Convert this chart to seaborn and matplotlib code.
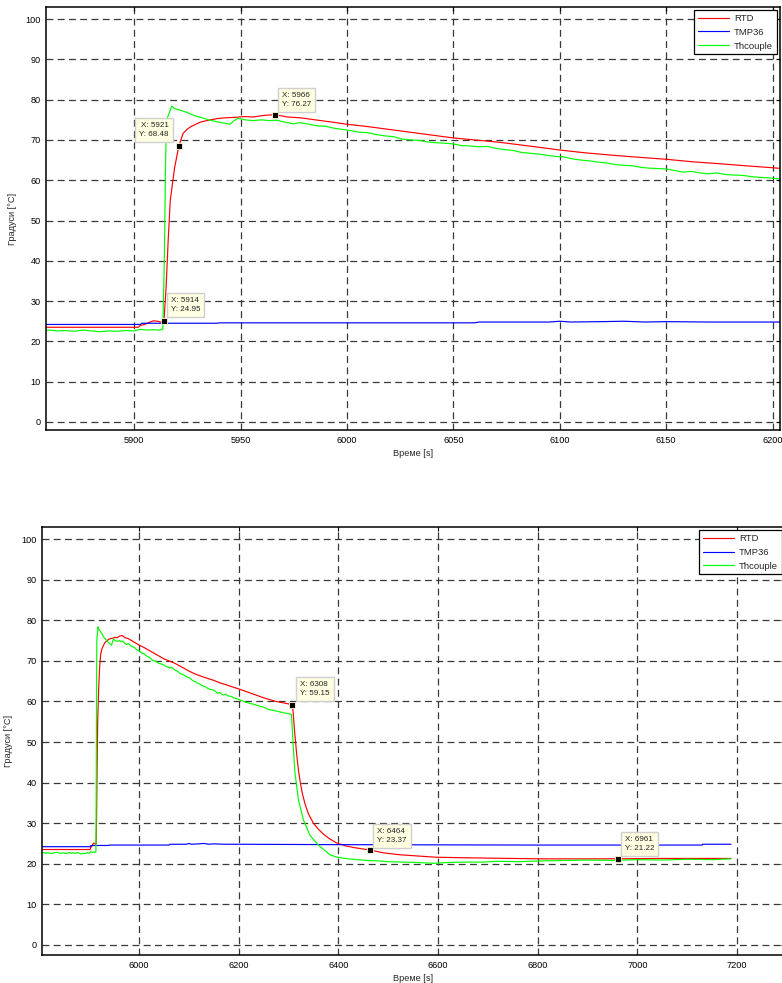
#!/usr/bin/python3

import seaborn as sns
import matplotlib.pyplot as plt

# RTD sensor (red)
t_rtd = [5806, 5902, 5903, 5905, 5907, 5909, 5911, 5912.5, 5914, 5915, 5916, 5917, 5919,
         5921, 5923, 5925, 5927, 5931, 5935, 5939, 5943, 5947, 5952, 5956, 5961, 5966, 5969,
         5972, 5978, 5985, 5992, 6000, 6010, 6020, 6030, 6040, 6050, 6060, 6072, 6081, 6090,
         6100, 6112, 6125, 6137, 6150, 6162, 6175, 6187, 6200, 6225, 6250, 6275, 6300, 6308,
         6309.5, 6312, 6316, 6320, 6324, 6328, 6333, 6340, 6350, 6360, 6370, 6383, 6397, 6415,
         6430, 6464, 6490, 6524, 6560, 6596, 6640, 6690, 6750, 6810, 6900, 6961, 7050, 7120,
         7188]
rtd = [23.5, 23.5, 24.0, 24.2, 24.7, 25.1, 25.0, 24.8, 24.95, 33, 45, 55, 63,
       68.48, 71.6, 72.7, 73.4, 74.4, 74.9, 75.3, 75.5, 75.6, 75.8, 75.7, 76.1, 76.27, 76.0,
       75.7, 75.5, 75.0, 74.5, 73.9, 73.3, 72.6, 71.9, 71.2, 70.5, 70.0, 69.4, 68.8, 68.2,
       67.5, 66.8, 66.2, 65.7, 65.2, 64.6, 64.1, 63.6, 63.1, 62.0, 60.9, 60.0, 59.4, 59.15,
       57.0, 53.0, 47.5, 43.0, 39.8, 37.2, 34.8, 32.3, 30.0, 28.5, 27.3, 26.1, 25.1, 24.4,
       24.0, 23.37, 22.7, 22.2, 21.9, 21.6, 21.5, 21.4, 21.3, 21.2, 21.2, 21.22, 21.3, 21.3,
       21.3]

# TMP36 sensor (blue)
t_tmp = [5806, 5903, 5903.5, 5939, 5940, 6060, 6062, 6095, 6100, 6105, 6120, 6130, 6140,
         6150, 6170, 6200, 6400, 6800, 7130, 7131, 7188]
tmp36 = [24.2, 24.2, 24.5, 24.5, 24.6, 24.6, 24.8, 24.8, 25.0, 24.8, 24.9, 25.0, 24.8,
         24.9, 24.8, 24.8, 24.7, 24.6, 24.6, 24.8, 24.8]

# thermocouple (green)
t_th = [5806, 5812, 5818, 5824, 5830, 5836, 5842, 5848, 5854, 5860, 5864, 5868, 5872, 5876,
        5880, 5884, 5888, 5892, 5896, 5900, 5903, 5906, 5909, 5912, 5913.5, 5914.2, 5914.8,
        5915.3, 5917.7, 5919, 5921.6, 5925, 5929, 5932, 5935.6, 5940, 5945, 5947, 5949, 5952,
        5956, 5960, 5963, 5967, 5971, 5975, 5978, 5982, 5986, 5990, 5994, 5998, 6002, 6006,
        6010, 6014, 6018, 6022, 6026, 6030, 6034, 6038, 6042, 6046, 6050, 6054, 6058, 6062,
        6066, 6070, 6074, 6078, 6082, 6086, 6090, 6094, 6098, 6102, 6106, 6110, 6114, 6118,
        6122, 6126, 6130, 6134, 6138, 6142, 6146, 6150, 6154, 6158, 6162, 6166, 6170, 6174,
        6178, 6182, 6186, 6190, 6194, 6198, 6202, 6210, 6220, 6230, 6240, 6250, 6260, 6270,
        6280, 6290, 6300, 6306, 6309, 6313, 6320, 6330, 6343, 6360, 6383, 6398, 6420, 6440,
        6457, 6480, 6500, 6530, 6560, 6590, 6620, 6650, 6690, 6720, 6760, 6810, 6850, 6900,
        6950, 7000, 7050, 7100, 7150, 7188]
thcouple = [22.8, 22.6, 22.7, 22.5, 22.7, 22.8, 22.6, 22.7, 22.5, 22.8, 22.6, 22.7, 22.5, 22.8,
            22.6, 22.4, 22.6, 22.5, 22.7, 22.6, 23.0, 22.8, 22.9, 22.8, 23.0, 40, 65,
            75, 78.4, 77.8, 77.4, 76.8, 75.9, 75.5, 74.9, 74.4, 73.9, 74.8, 75.4, 75.0,
            74.8, 75.0, 74.8, 74.9, 74.4, 74.0, 74.3, 73.9, 73.5, 73.4, 72.9, 72.6, 72.3, 71.9,
            71.8, 71.3, 71.0, 70.8, 70.2, 70.0, 69.9, 69.5, 69.3, 69.2, 69.0, 68.6, 68.5, 68.3,
            68.4, 67.9, 67.6, 67.4, 66.9, 66.7, 66.5, 66.2, 65.9, 65.8, 65.3, 65.0, 64.8, 64.5,
            64.3, 63.9, 63.7, 63.6, 63.2, 63.0, 62.9, 62.8, 62.4, 62.0, 62.2, 61.8, 61.6, 61.8,
            61.4, 61.3, 61.2, 60.9, 60.7, 60.6, 60.4, 60.0, 59.6, 59.3, 58.9, 58.6, 58.0, 57.8,
            57.5, 57.2, 57.0, 56.8, 50.0, 42.4, 35.7, 30.8, 27.0, 24.6, 22.2, 21.6, 21.2, 21.0,
            20.8, 20.7, 20.5, 20.4, 20.3, 20.1, 20.3, 20.4, 20.4, 20.6, 20.5, 20.7, 20.8, 20.9,
            20.8, 21.0, 20.9, 21.1, 21.0, 21.2]

# data cursors
tips_top_x = [5914, 5921, 5966]
tips_top_y = [24.95, 68.48, 76.27]
tips_bot_x = [6308, 6464, 6961]
tips_bot_y = [59.15, 23.37, 21.22]

xticks_top = [5900, 5950, 6000, 6050, 6100, 6150, 6200]
xticks_bot = [6000, 6200, 6400, 6600, 6800, 7000, 7200]
yticks = [0, 10, 20, 30, 40, 50, 60, 70, 80, 90, 100]


def draw(ax, xlim, ylim, xticks, tip_x, tip_y, offsets):
    sns.lineplot(x=t_rtd, y=rtd, ax=ax, color='#ff0000', lw=0.85, label='RTD',
                 sort=False, estimator=None)
    sns.lineplot(x=t_tmp, y=tmp36, ax=ax, color='#0000ff', lw=0.85, label='TMP36',
                 sort=False, estimator=None)
    sns.lineplot(x=t_th, y=thcouple, ax=ax, color='#00ff00', lw=0.85, label='Thcouple',
                 sort=False, estimator=None)
    ax.set_xlim(*xlim)
    ax.set_ylim(*ylim)
    ax.set_xticks(xticks)
    ax.set_yticks(yticks)
    ax.grid(True, color='0.22', linestyle=(0, (5.5, 3.5)), linewidth=0.9)
    ax.set_axisbelow(True)
    ax.tick_params(direction='in', length=3, width=0.8, top=True, right=True,
                   labelsize=6.6, pad=4, colors='k')
    for s in ax.spines.values():
        s.set_color('k')
        s.set_linewidth(1.1)
    ax.set_xlabel('Време [s]', fontsize=6.6, labelpad=3)
    ax.set_ylabel('Градуси [°C]', fontsize=6.6, labelpad=6)

    ax.plot(tip_x, tip_y, 's', color='k', ms=4.5, mec='#fffbd0', mew=0.6, zorder=6)
    for x, y, (dx, dy, ha) in zip(tip_x, tip_y, offsets):
        ax.annotate(f'X: {x:g}\nY: {y:.2f}', xy=(x, y), xytext=(dx, dy),
                    textcoords='offset pixels', ha=ha, va='bottom', fontsize=5.8,
                    linespacing=1.4, color='#222222', zorder=7,
                    bbox=dict(boxstyle='square,pad=0.5', fc='#ffffe1', ec='#cfcfcf', lw=1.0))

    leg = ax.legend(loc='upper right', fontsize=6.8, fancybox=False, framealpha=1,
                    edgecolor='k', handlelength=3.3, borderpad=0.4, labelspacing=0.5,
                    borderaxespad=0.35, handletextpad=0.5)
    leg.get_frame().set_linewidth(0.9)


def main():
    sns.set_style('white')
    plt.rcParams['font.family'] = ['Liberation Sans', 'DejaVu Sans']

    fig = plt.figure(figsize=(7.82, 9.83), dpi=100)
    ax1 = fig.add_axes([46 / 782, 1 - 430 / 983, 734 / 782, 423 / 983])
    ax2 = fig.add_axes([42 / 782, 1 - 955 / 983, 743 / 782, 428 / 983])

    draw(ax1, (5858.6, 6203.5), (-2, 103), xticks_top, tips_top_x, tips_top_y,
         [(7, 8, 'left'), (-10, 8, 'right'), (7, 7, 'left')])
    draw(ax2, (5805.3, 7296.4), (-2.5, 103), xticks_bot, tips_bot_x, tips_bot_y,
         [(7.5, 8, 'left'), (7, 6.5, 'left'), (7, 7, 'left')])

    fig.savefig('out.png', dpi=100)


if __name__ == '__main__':
    main()
